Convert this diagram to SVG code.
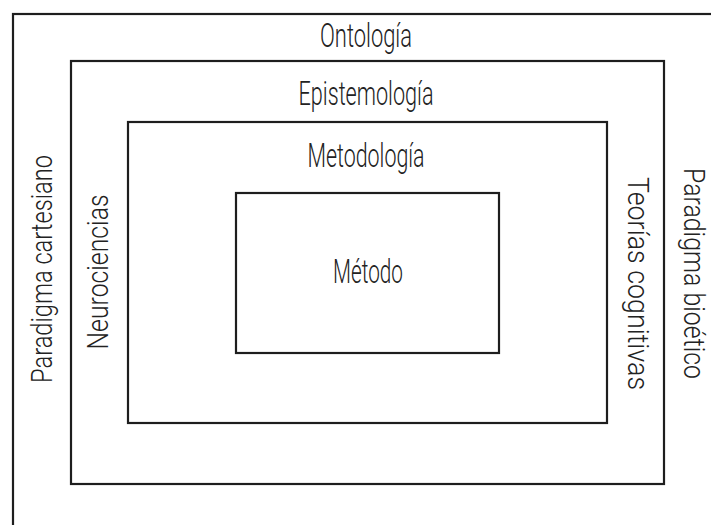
<svg xmlns="http://www.w3.org/2000/svg" width="711" height="525" viewBox="0 0 711 525">
<style>
.box{fill:none;stroke:#1e1e1e;stroke-width:2.2}
.h{font-family:Roboto,"Liberation Sans",sans-serif;font-weight:300;font-size:33px;fill:#222;text-anchor:middle}
.v{font-family:Roboto,"Liberation Sans",sans-serif;font-weight:300;font-size:29px;fill:#222;text-anchor:middle}
</style>
<rect width="711" height="525" fill="#fff"/>
<g id="ontologia">
<rect class="box" x="13" y="14" width="720" height="530"/>
<text class="h" x="366" y="47" textLength="92" lengthAdjust="spacingAndGlyphs">Ontología</text>
</g>
<g id="epistemologia">
<rect class="box" x="71" y="61" width="593" height="423"/>
<text class="h" x="366" y="105" textLength="135" lengthAdjust="spacingAndGlyphs">Epistemología</text>
</g>
<g id="metodologia">
<rect class="box" x="128" y="122" width="479" height="301"/>
<text class="h" x="366" y="167" textLength="117" lengthAdjust="spacingAndGlyphs">Metodología</text>
</g>
<g id="metodo">
<rect class="box" x="236" y="193" width="263" height="160"/>
<text class="h" x="368" y="283" textLength="70" lengthAdjust="spacingAndGlyphs">Método</text>
</g>
<g id="paradigma-cartesiano">
<text class="v" transform="translate(52,269) rotate(-90)" textLength="228" lengthAdjust="spacingAndGlyphs">Paradigma cartesiano</text>
</g>
<g id="neurociencias">
<text class="v" transform="translate(108,272) rotate(-90)" textLength="155" lengthAdjust="spacingAndGlyphs">Neurociencias</text>
</g>
<g id="teorias-cognitivas">
<text class="v" transform="translate(628,283.5) rotate(90)" textLength="213" lengthAdjust="spacingAndGlyphs">Teorías cognitivas</text>
</g>
<g id="paradigma-bioetico">
<text class="v" transform="translate(684,273.5) rotate(90)" font-size="28" textLength="211" lengthAdjust="spacingAndGlyphs">Paradigma bioético</text>
</g>
<g id="connectors"></g>
</svg>
